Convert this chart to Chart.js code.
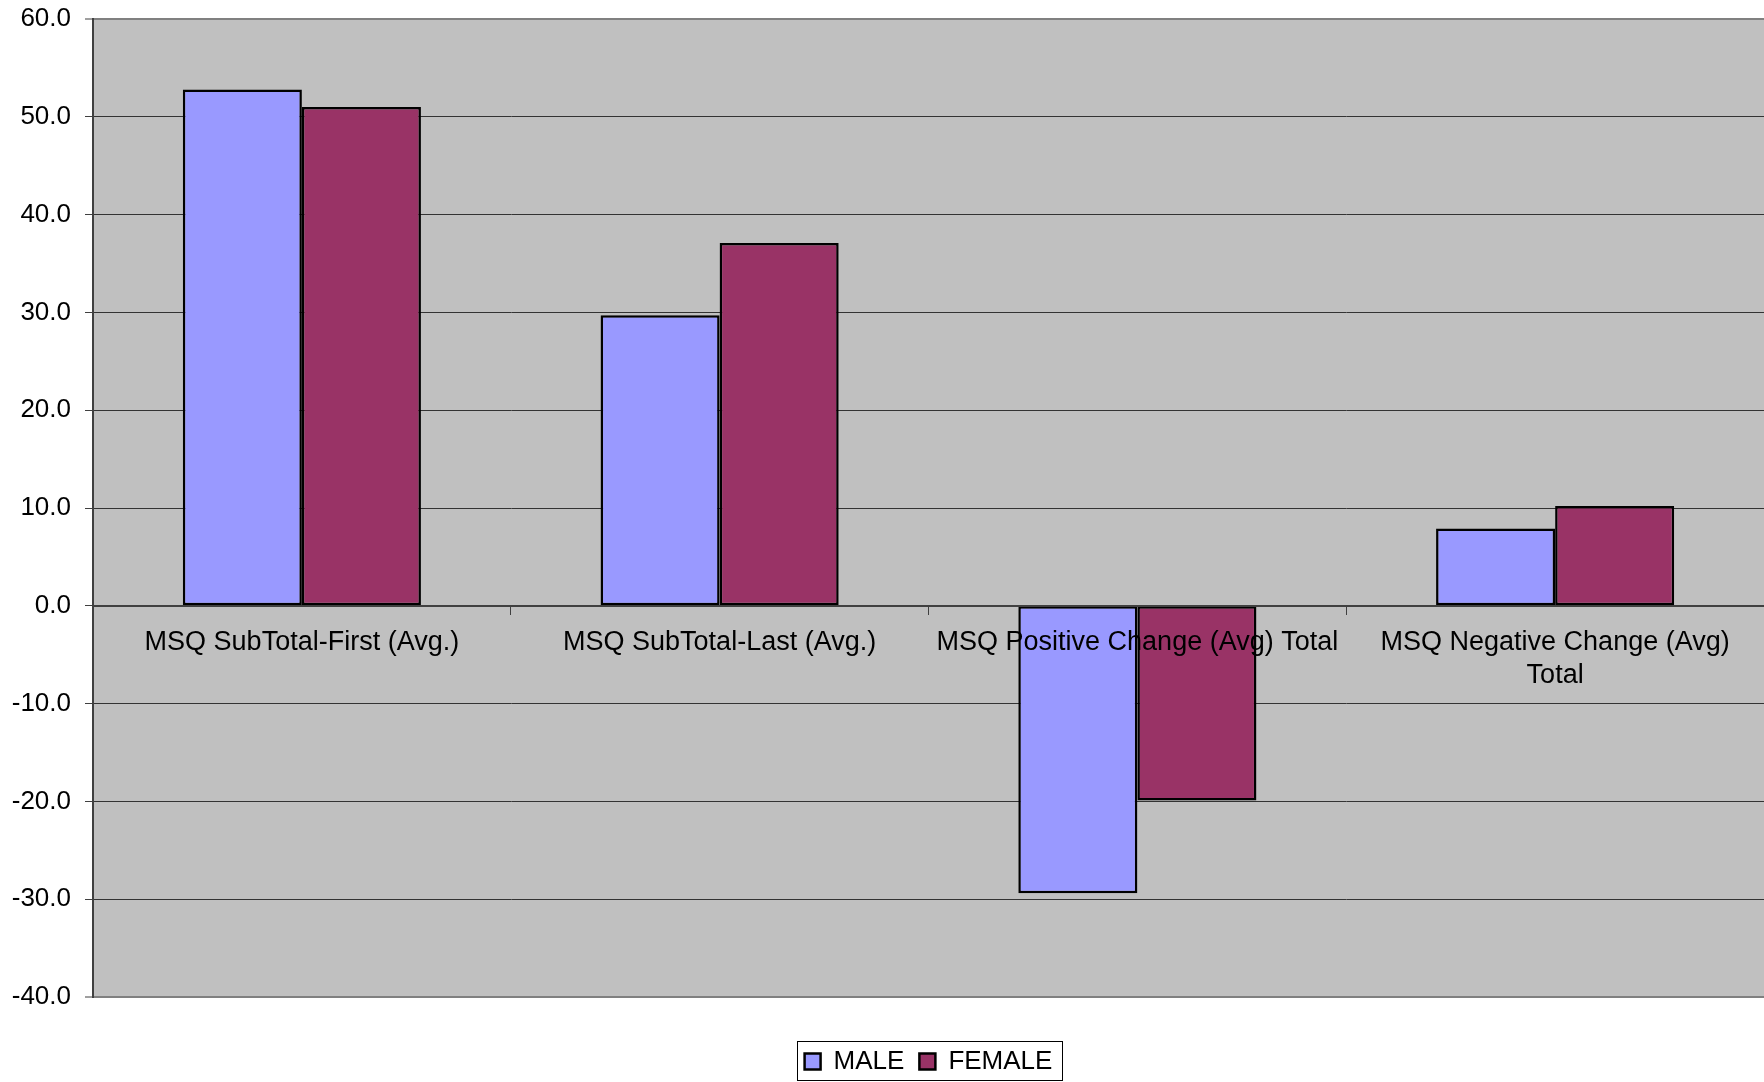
<!DOCTYPE html>
<html>
<head>
<meta charset="utf-8">
<script src="https://cdn.jsdelivr.net/npm/chart.js@4/dist/chart.umd.min.js"></script>
<style>
  html, body { margin: 0; padding: 0; background: #ffffff; }
  #wrap { width: 1764px; height: 1082px; }
</style>
</head>
<body>
<div id="wrap"><canvas id="c" width="1764" height="1082"></canvas></div>
<script>
const categories = [
  'MSQ SubTotal-First (Avg.)',
  'MSQ SubTotal-Last (Avg.)',
  'MSQ Positive Change (Avg) Total',
  ['MSQ Negative Change (Avg)', 'Total']
];
const maleValues = [52.8, 29.7, -29.4, 7.9];
const femaleValues = [51.0, 37.1, -19.9, 10.2];
const seriesNames = ['MALE', 'FEMALE'];
const yTicks = [-40, -30, -20, -10, 0, 10, 20, 30, 40, 50, 60];

const FONT = '"Liberation Sans", Arial, sans-serif';

const plotBg = {
  id: 'plotBg',
  beforeDraw(chart) {
    const {ctx, chartArea: a} = chart;
    ctx.save();
    ctx.fillStyle = '#C0C0C0';
    ctx.fillRect(a.left, a.top, a.right - a.left, a.bottom - a.top);
    ctx.restore();
  },
  afterDraw(chart) {
    const lg = chart.legend;
    if (!lg || !lg.legendHitBoxes || !lg.legendHitBoxes.length) return;
    const hb = lg.legendHitBoxes;
    const first = hb[0], last = hb[hb.length - 1];
    const cy = first.top + first.height / 2;
    const ctx = chart.ctx;
    ctx.save();
    ctx.strokeStyle = '#000000';
    ctx.lineWidth = 1;
    const l = Math.round(first.left - 8) + 0.5;
    const r = Math.round(last.left + last.width + 10) + 0.5;
    const t = Math.round(cy - 21) + 0.5;
    const b = Math.min(Math.round(cy + 19), chart.height - 2) + 0.5;
    ctx.strokeRect(l, t, r - l, b - t);
    ctx.restore();
  }
};

new Chart(document.getElementById('c'), {
  type: 'bar',
  data: {
    labels: categories,
    datasets: [
      { label: seriesNames[0], data: maleValues, backgroundColor: '#9999FF', borderColor: '#000000', borderWidth: 2.5, borderSkipped: false },
      { label: seriesNames[1], data: femaleValues, backgroundColor: '#993366', borderColor: '#000000', borderWidth: 2.5, borderSkipped: false }
    ]
  },
  options: {
    responsive: false,
    animation: false,
    devicePixelRatio: 1,
    layout: { padding: { top: 19, left: 0, right: 0, bottom: -2.5 } },
    datasets: { bar: { categoryPercentage: 0.57, barPercentage: 1.0 } },
    scales: {
      x: {
        position: { y: 0 },
        grid: { display: true, drawOnChartArea: false, offset: true, drawTicks: true, tickLength: 8, tickColor: '#404040', tickWidth: 1 },
        border: { display: true, color: '#404040', width: 2, z: 1 },
        ticks: { z: 1, color: '#000000', font: { family: FONT, size: 27 }, padding: 13, maxRotation: 0, autoSkip: false }
      },
      y: {
        min: -40, max: 60,
        afterFit(scale) { scale.width = 93; scale.paddingTop = 0; scale.paddingBottom = 0; },
        afterBuildTicks(scale) { scale.ticks = yTicks.map(v => ({ value: v })); },
        grid: {
          color: (c) => (c.tick && (c.tick.value === 60 || c.tick.value === -40)) ? '#808080' : '#333333',
          lineWidth: (c) => (c.tick && (c.tick.value === 60 || c.tick.value === -40)) ? 2 : 1,
          tickLength: 8, tickColor: '#404040', tickWidth: 1
        },
        border: { display: true, color: '#404040', width: 2 },
        ticks: { color: '#000000', font: { family: FONT, size: 26 }, padding: 14, callback: (v) => Number(v).toFixed(1) }
      }
    },
    plugins: {
      tooltip: { enabled: false },
      legend: {
        position: 'bottom',
        fullSize: false,
        title: { display: true, text: '', padding: { top: 26.5, bottom: 0 }, font: { size: 10, lineHeight: 1 } },
        labels: { color: '#000000', font: { family: FONT, size: 26 }, boxWidth: 16, boxHeight: 16, padding: 15 }
      }
    }
  },
  plugins: [plotBg]
});
</script>
</body>
</html>
